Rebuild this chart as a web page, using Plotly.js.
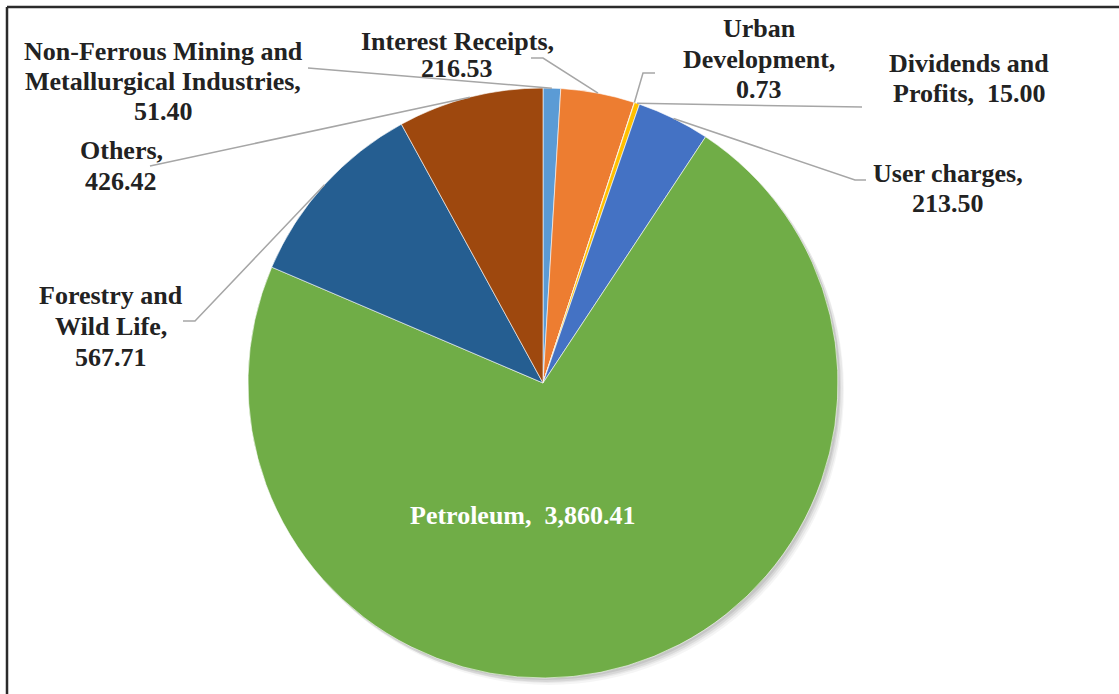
<!DOCTYPE html>
<html>
<head>
<meta charset="utf-8">
<script src="https://cdn.plot.ly/plotly-3.0.1.min.js"></script>
<style>html,body{margin:0;padding:0;background:#fff;}#chart{width:1119px;height:694px;}</style>
</head>
<body>
<div id="chart"></div>
<script>
// ---- data ----
var categories = ['Non-Ferrous Mining and Metallurgical Industries', 'Interest Receipts', 'Urban Development',
  'Dividends and Profits', 'User charges', 'Petroleum', 'Forestry and Wild Life', 'Others'];
var values = [51.40, 216.53, 0.73, 15.00, 213.50, 3860.41, 567.71, 426.42];
var colors = ['#5B9BD5', '#ED7D31', '#A5A5A5', '#FFC000', '#4472C4', '#70AD47', '#255E91', '#9E480E'];
// label line layout: '<br>' where line breaks happen, {v} = value
var labelTemplates = [
  'Non-Ferrous Mining and<br>Metallurgical Industries,<br>{v}',
  'Interest Receipts,<br>{v}',
  'Urban<br>Development,<br>{v}',
  'Dividends and<br>Profits,  {v}',
  'User charges,<br>{v}',
  'Petroleum,  {v}',
  'Forestry and<br>Wild Life,<br>{v}',
  'Others,<br>{v}'
];

// ---- layout geometry (pixels) ----
var W = 1119, H = 694;
var cx = 543, cy = 383, R = 295;
function px(x){ return x / W; }
function py(y){ return 1 - y / H; }

// label: centre x, first-line centre y, line spacing
var labelPos = [[163, 52, 30], [457, 41, 28], [759, 29, 30], [969, 64, 30], [948, 173, 30], [523, 515, 30], [111, 295, 31], [121, 151, 30]];
var connectors = [
  [[308, 68]],
  [[531, 58], [543, 58]],
  [[655, 73], [643, 73]],
  [[862, 107]],
  [[866, 180], [855, 180]],
  null,
  [[183, 321], [195, 321]],
  [[150, 166]]
];

function fmt(v){
  return v.toLocaleString('en-US', {minimumFractionDigits: 2, maximumFractionDigits: 2});
}

var total = values.reduce(function(a, b){ return a + b; }, 0);

var dom = {x: [px(cx - R), px(cx + R)], y: [py(cy + R), py(cy - R)]};
var traces = [];
// soft shadow layers
var shadowOffs = [[6, 7, 0.04], [5, 5, 0.05], [3, 4, 0.07], [2, 2, 0.08]];
shadowOffs.forEach(function(s){
  var dx = s[0], dy = s[1];
  traces.push({
    type: 'pie', values: [1], labels: ['shadow'], sort: false,
    marker: {colors: ['rgba(0,0,0,' + s[2] + ')'], line: {width: 0}},
    textinfo: 'none', hoverinfo: 'skip', showlegend: false,
    domain: {x: [px(cx - R + dx), px(cx + R + dx)], y: [py(cy + R + dy), py(cy - R + dy)]}
  });
});
traces.push({
  type: 'pie',
  labels: categories,
  values: values,
  sort: false,
  direction: 'clockwise',
  rotation: 0,
  marker: {colors: colors, line: {color: '#ffffff', width: 0.6}},
  textinfo: 'none',
  hoverinfo: 'label+value',
  showlegend: false,
  domain: dom
});

var annotations = [];
var shapes = [];
var cum = 0;
var lineColor = '#A6A6A6';
for (var i = 0; i < values.length; i++) {
  var mid = (cum + values[i] / 2) / total * 2 * Math.PI;
  cum += values[i];
  var ex = cx + R * Math.sin(mid);
  var ey = cy - R * Math.cos(mid);
  var inside = connectors[i] === null;
  var lines = labelTemplates[i].replace('{v}', fmt(values[i])).split('<br>');
  for (var j = 0; j < lines.length; j++) {
    annotations.push({
      x: px(labelPos[i][0]), y: py(labelPos[i][1] + j * labelPos[i][2]), xref: 'paper', yref: 'paper',
      xanchor: 'center', yanchor: 'middle', showarrow: false, align: 'center',
      text: '<b>' + lines[j] + '</b>',
      font: {family: 'Liberation Serif, Times New Roman, serif', size: 26, color: inside ? '#ffffff' : '#222222'}
    });
  }
  if (!inside) {
    var pts = connectors[i].concat([[ex, ey]]);
    var path = 'M ' + px(pts[0][0]) + ' ' + py(pts[0][1]);
    for (var k = 1; k < pts.length; k++) path += ' L ' + px(pts[k][0]) + ' ' + py(pts[k][1]);
    shapes.push({type: 'path', xref: 'paper', yref: 'paper', path: path,
      line: {color: lineColor, width: 1.5}});
  }
}
// frame lines
shapes.push({type: 'line', xref: 'paper', yref: 'paper', x0: px(7), x1: px(1119), y0: py(7), y1: py(7),
  line: {color: '#2b2b2b', width: 2.5}});
shapes.push({type: 'line', xref: 'paper', yref: 'paper', x0: px(7), x1: px(7), y0: py(7), y1: py(694),
  line: {color: '#2b2b2b', width: 2.5}});

var layout = {
  width: W, height: H,
  margin: {l: 0, r: 0, t: 0, b: 0},
  paper_bgcolor: '#ffffff',
  showlegend: false,
  annotations: annotations,
  shapes: shapes
};
Plotly.newPlot('chart', traces, layout, {displayModeBar: false, staticPlot: true});
</script>
</body>
</html>
